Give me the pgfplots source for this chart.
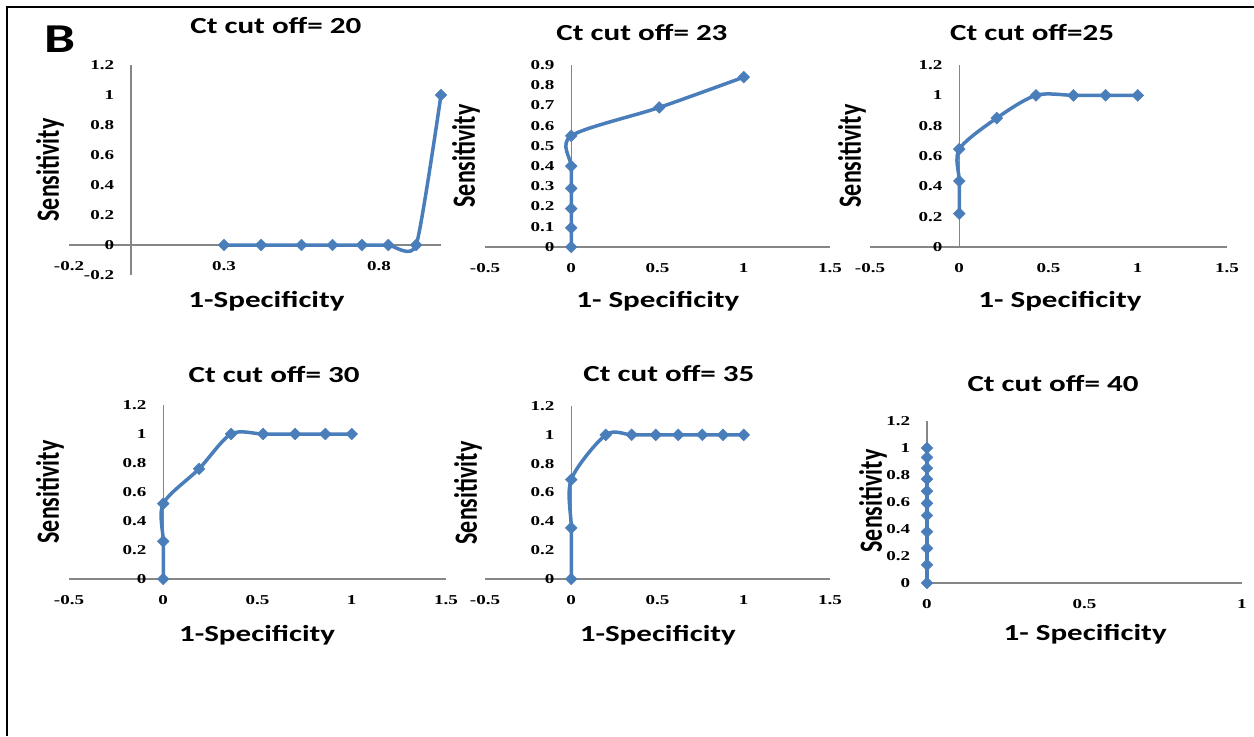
\documentclass[border=0pt]{standalone}
\usepackage{pgfplots}
\pgfplotsset{compat=1.18}
\usepackage{graphicx}
\usepackage{fontspec}
\setmainfont{Carlito}
\newfontfamily\calb[FakeStretch=1.35]{Carlito}
\newfontfamily\calp{Carlito}
\newfontfamily\tickf[FakeStretch=1.4]{Liberation Serif}
\definecolor{exblue}{HTML}{4A7EBB}
\definecolor{axgray}{HTML}{868686}
\pgfplotsset{
  rocax/.style={
    scale only axis,
    anchor=south west,
    axis x line=middle, axis y line=middle,
    axis line style={axgray, line width=0.6pt, -},
    hide obscured x ticks=false, hide obscured y ticks=false,
    major tick length=0pt,
    clip=false,
    tick label style={font=\tickf\bfseries\fontsize{6.8}{7}\selectfont, inner sep=0pt},
    xticklabel style={anchor=center, yshift=-10.5pt},
    yticklabel style={anchor=east, xshift=-8.25pt},
    every axis title/.style={anchor=base, font=\calb\bfseries\fontsize{11.5}{13}\selectfont},
    every axis x label/.style={anchor=base, font=\calb\bfseries\fontsize{11.5}{13}\selectfont},
    every axis y label/.style={rotate=90, anchor=center, font=\calp\bfseries\fontsize{12}{14}\selectfont},
    ylabel={\scalebox{1}[1.35]{Sensitivity}},
  },
  rocline/.style={exblue, line width=1.75pt, smooth, mark=square*, mark size=2.1pt,
    mark options={rotate=45, line width=0.2pt, fill=exblue, draw=exblue}},
}
\begin{document}
\begin{tikzpicture}
\useasboundingbox (0,0) rectangle (627pt,368pt);
\draw[line width=1.2pt] (3.5pt,0pt) -- (3.5pt,364.5pt) -- (627pt,364.5pt);
\node[anchor=base west, inner sep=0pt, font=\calb\bfseries\fontsize{20.5}{22}\selectfont] at (22pt,341.5pt) {B};

% Panel 1: Ct cut off = 20
\begin{axis}[rocax, at={(34.5pt,230.5pt)}, width=186pt, height=105pt,
  xmin=-0.2, xmax=1, ymin=-0.2, ymax=1.2,
  xtick={-0.2,0.3,0.8}, xticklabels={-0.2,0.3,0.8},
  ytick={-0.2,0,0.2,0.4,0.6,0.8,1,1.2}, yticklabels={-0.2,0,0.2,0.4,0.6,0.8,1,1.2},
  title={Ct cut off= 20}, title style={at={(axis description cs:0.556,1.152)}},
  xlabel={1-Specificity}, xlabel style={at={(axis description cs:0.531,-0.157)}},
  ylabel style={at={(axis description cs:-0.051,0.5)}}]
\addplot[rocline, tension=0.35] coordinates {(0.3,0)(0.42,0)(0.55,0)(0.65,0)(0.745,0)(0.83,0)(0.92,0)(1,1)};
\end{axis}

% Panel 2: Ct cut off = 23
\begin{axis}[rocax, at={(242.5pt,244.5pt)}, width=172.5pt, height=91pt,
  xmin=-0.5, xmax=1.5, ymin=0, ymax=0.9,
  xtick={-0.5,0,0.5,1,1.5}, xticklabels={-0.5,0,0.5,1,1.5},
  ytick={0,0.1,0.2,0.3,0.4,0.5,0.6,0.7,0.8,0.9}, yticklabels={0,0.1,0.2,0.3,0.4,0.5,0.6,0.7,0.8,0.9},
  title={Ct cut off= 23}, title style={at={(axis description cs:0.455,1.132)}},
  xlabel={1- Specificity}, xlabel style={at={(axis description cs:0.501,-0.330)}},
  ylabel style={at={(axis description cs:-0.055,0.5)}}]
\addplot[rocline] coordinates {(0,0)(0,0.095)(0,0.19)(0,0.29)(0,0.40)(0,0.55)(0.51,0.69)(1,0.84)};
\end{axis}

% Panel 3: Ct cut off = 25
\begin{axis}[rocax, at={(435pt,244.5pt)}, width=178.5pt, height=91pt,
  xmin=-0.5, xmax=1.5, ymin=0, ymax=1.2,
  xtick={-0.5,0,0.5,1,1.5}, xticklabels={-0.5,0,0.5,1,1.5},
  ytick={0,0.2,0.4,0.6,0.8,1,1.2}, yticklabels={0,0.2,0.4,0.6,0.8,1,1.2},
  title={Ct cut off=25}, title style={at={(axis description cs:0.454,1.132)}},
  xlabel={1- Specificity}, xlabel style={at={(axis description cs:0.532,-0.330)}},
  ylabel style={at={(axis description cs:-0.050,0.5)}}]
\addplot[rocline] coordinates {(0,0.22)(0,0.435)(0,0.645)(0.21,0.85)(0.43,1)(0.64,1)(0.82,1)(1,1)};
\end{axis}

% Panel 4: Ct cut off = 30
\begin{axis}[rocax, at={(34.5pt,78.5pt)}, width=188.5pt, height=87pt,
  xmin=-0.5, xmax=1.5, ymin=0, ymax=1.2,
  xtick={-0.5,0,0.5,1,1.5}, xticklabels={-0.5,0,0.5,1,1.5},
  ytick={0,0.2,0.4,0.6,0.8,1,1.2}, yticklabels={0,0.2,0.4,0.6,0.8,1,1.2},
  title={Ct cut off= 30}, title style={at={(axis description cs:0.544,1.132)}},
  xlabel={1-Specificity}, xlabel style={at={(axis description cs:0.499,-0.362)}},
  ylabel style={at={(axis description cs:-0.050,0.5)}}]
\addplot[rocline] coordinates {(0,0)(0,0.26)(0,0.52)(0.19,0.76)(0.36,1)(0.53,1)(0.70,1)(0.86,1)(1,1)};
\end{axis}

% Panel 5: Ct cut off = 35
\begin{axis}[rocax, at={(242.5pt,78.5pt)}, width=172.5pt, height=86.5pt,
  xmin=-0.5, xmax=1.5, ymin=0, ymax=1.2,
  xtick={-0.5,0,0.5,1,1.5}, xticklabels={-0.5,0,0.5,1,1.5},
  ytick={0,0.2,0.4,0.6,0.8,1,1.2}, yticklabels={0,0.2,0.4,0.6,0.8,1,1.2},
  title={Ct cut off= 35}, title style={at={(axis description cs:0.533,1.139)}},
  xlabel={1-Specificity}, xlabel style={at={(axis description cs:0.501,-0.364)}},
  ylabel style={at={(axis description cs:-0.049,0.497)}}]
\addplot[rocline] coordinates {(0,0)(0,0.355)(0,0.69)(0.2,1)(0.35,1)(0.49,1)(0.62,1)(0.76,1)(0.88,1)(1,1)};
\end{axis}

% Panel 6: Ct cut off = 40
\begin{axis}[rocax, at={(463.5pt,76.5pt)}, width=157.5pt, height=81pt,
  xmin=0, xmax=1, ymin=0, ymax=1.2,
  xtick={0,0.5,1}, xticklabels={0,0.5,1},
  ytick={0,0.2,0.4,0.6,0.8,1,1.2}, yticklabels={0,0.2,0.4,0.6,0.8,1,1.2},
  title={Ct cut off= 40}, title style={at={(axis description cs:0.4,1.185)}},
  xlabel={1- Specificity}, xlabel style={at={(axis description cs:0.502,-0.352)}},
  ylabel style={at={(axis description cs:-0.171,0.506)}}]
\addplot[rocline] coordinates {(0,0)(0,0.135)(0,0.257)(0,0.38)(0,0.5)(0,0.59)(0,0.68)(0,0.77)(0,0.85)(0,0.93)(0,1)};
\end{axis}
\end{tikzpicture}
\end{document}
